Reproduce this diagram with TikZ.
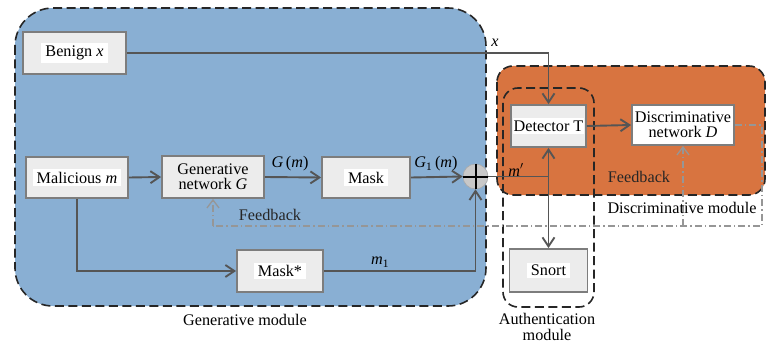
\documentclass[tikz,border=0pt]{standalone}
\usepackage{fontspec}
\setmainfont{Liberation Serif}
\usetikzlibrary{arrows.meta,calc}

\definecolor{genblue}{RGB}{137,175,211}
\definecolor{discorange}{RGB}{216,116,64}
\definecolor{boxfill}{RGB}{236,236,236}
\definecolor{boxedge}{RGB}{125,125,125}
\definecolor{wire}{RGB}{85,85,85}
\definecolor{fbgray}{RGB}{150,150,150}
\definecolor{sumfill}{RGB}{200,200,200}

\tikzset{
  blk/.style={draw=boxedge, line width=1.8pt, fill=boxfill, inner sep=0pt},
  wbox/.style={blk, fill=white},
  lbl/.style={fill=white, inner xsep=4pt, inner ysep=2.5pt},
  plain/.style={inner sep=1pt, align=center},
  wireln/.style={draw=wire, line width=1.9pt},
  arr/.style={wireln, -{Straight Barb[length=9pt,width=12pt,line width=1.9pt]}},
  region/.style={dash pattern=on 9pt off 4.5pt, line width=1.6pt, draw=black!85},
  fb/.style={draw=fbgray, line width=1.3pt, dash pattern=on 7pt off 3pt on 1.5pt off 3pt},
  fbarr/.style={fb, -{Straight Barb[length=8pt,width=12pt,line width=1.3pt]}},
}

\begin{document}
\begin{tikzpicture}[x=1pt, y=-1pt, font=\fontsize{16.2}{18}\selectfont]
\useasboundingbox (0,0) rectangle (766,345);

% module backgrounds
\fill[genblue, rounded corners=38pt] (15,8) rectangle (486,306);
\fill[discorange, rounded corners=16pt] (497,66) rectangle (765,195);
\draw[region, rounded corners=38pt] (15,8) rectangle (486,306);
\draw[region, rounded corners=16pt] (497,66) rectangle (765,195);
\draw[region, rounded corners=15pt] (503,88) rectangle (594,307);

% blocks
\node[blk, minimum width=103pt, minimum height=42pt] (benign) at (74.5,53) {};
\node[lbl] (benignT) at (benign) {Benign \textit{x}};
\node[blk, minimum width=102pt, minimum height=41pt] (mal) at (77,177.5) {};
\node[lbl] (malT) at (mal) {Malicious \textit{m}};
\node[blk, minimum width=102pt, minimum height=42pt, align=center] (gen) at (213,177) {Generative\\[-3pt]network \textit{G}};
\node[blk, minimum width=88pt, minimum height=41pt] (mask) at (366,177.5) {};
\node[lbl] (maskT) at (mask) {Mask};
\node[blk, minimum width=86pt, minimum height=42pt] (maskstar) at (280,271) {};
\node[lbl] (maskstarT) at (maskstar) {Mask*};
\node[blk, minimum width=75pt, minimum height=42pt] (det) at (548.5,126) {};
\node[lbl, inner xsep=1pt] (detT) at (det) {Detector T};
\node[wbox, minimum width=102pt, minimum height=40pt, align=center] (disc) at (683,125) {Discriminative\\[-3pt]network \textit{D}};
\node[blk, minimum width=78pt, minimum height=43pt] (snort) at (548.5,270.5) {};
\node[lbl] (snortT) at (snort) {Snort};

% summing junction
\node[circle, draw=sumfill!85!black, line width=0.6pt, fill=sumfill, minimum size=25pt, inner sep=0pt] (sum) at (475.5,176.5) {};

% signal paths
\draw[arr] (benign.east) -| (det.north);
\draw[arr] (mal.east) -- (gen.west);
\draw[arr] (gen.east) -- (mask.west);
\draw[arr] (mask.east) -- (sum.west);
\draw[arr] (mal.south) |- (maskstar.west);
\draw[arr] (maskstar.east) -| (sum.south);
\coordinate (split) at (det.south |- sum.east);
\draw[wireln] (sum.east) -- (split);
\draw[arr] (split) -- (det.south);
\draw[arr] (split) -- (snort.north);
\draw[arr] (det.east) -- (disc.west);

% plus sign of the junction, on top of the incoming wires
\draw[black, line width=2pt] (sum.west) -- (sum.east) (sum.north) -- (sum.south);

% feedback paths
\coordinate (fbR) at (762,226);
\coordinate (fbL) at (gen.south |- fbR);
\draw[fb] (disc.east) -| (fbR) -- (fbL);
\draw[fbarr] (fbL) -- (gen.south);
\draw[fbarr] (disc.south |- fbR) -- (disc.south);

% signal labels
\node[plain] (lx) at (495,43) {\textit{x}};
\node[plain] (lgm) at (290,164) {\textit{G}\,(\textit{m})};
\node[plain] (lg1m) at (436,164) {\textit{G}\textsubscript{1}\,(\textit{m})};
\node[plain] (lm1) at (380,262) {\textit{m}\textsubscript{1}};
\node[plain] (lmp) at (516,170) {\textit{m}$'$};
\node[plain, text=black!85] (fbG) at (270,215) {Feedback};
\node[plain, text=black!85] (fbD) at (639,177) {Feedback};

% module captions
\node[plain] (capG) at (245,320) {Generative module};
\node[plain] (capD) at (682,208) {Discriminative module};
\node[plain, align=center] (capA) at (547,327) {Authentication\\[-2pt]module};
\end{tikzpicture}
\end{document}
